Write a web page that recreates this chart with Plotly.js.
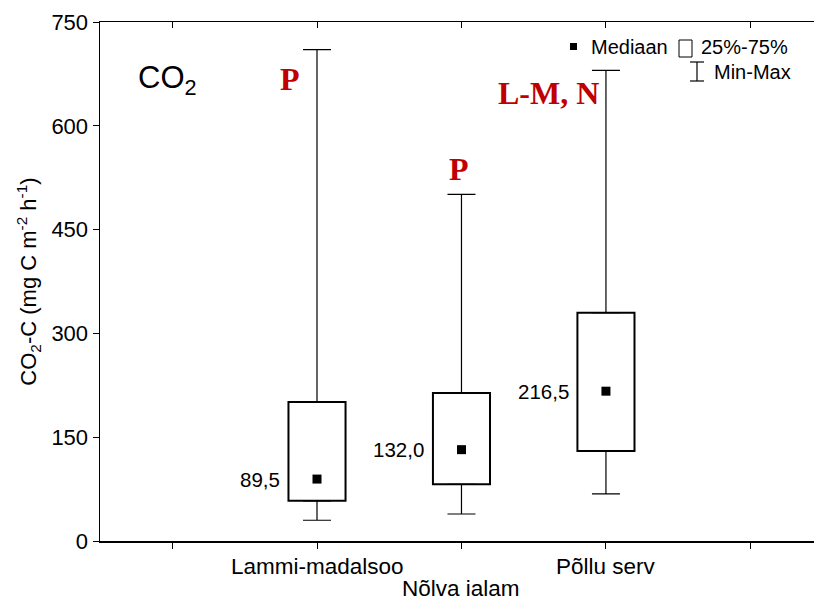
<!DOCTYPE html>
<html>
<head>
<meta charset="utf-8">
<script src="https://cdn.plot.ly/plotly-3.0.1.min.js"></script>
<style>
  html, body { margin: 0; padding: 0; background: #fff; }
  #chart { width: 814px; height: 596px; }
</style>
</head>
<body>
<div id="chart"></div>
<script>
// Site categories and their positions on the x axis
const categories = ['Lammi-madalsoo', 'Nõlva jalam', 'Põllu serv'];
const positions = [1, 2, 3];

// CO2-C flux summary statistics (mg C m-2 h-1)
const minVals    = [30, 39, 68];
const q1Vals     = [58, 82, 130];
const medianVals = [89.5, 132.0, 216.5];
const q3Vals     = [201, 214, 330];
const maxVals    = [710, 501, 680];

// Significance letters above each site
const sigLabels = ['P', 'P', 'L-M, N'];

const yTicks = [0, 150, 300, 450, 600, 750];

const FONT = 'Liberation Sans, Arial, sans-serif';
const SERIF = 'Liberation Serif, Times New Roman, serif';
const RED = '#c00000';

// Interquartile boxes: bars based at Q1 with height Q3-Q1
const boxTrace = {
  type: 'bar',
  x: positions,
  base: q1Vals,
  y: q3Vals.map((q3, i) => q3 - q1Vals[i]),
  width: 0.395,
  marker: { color: '#ffffff', line: { color: '#000000', width: 2 } },
  hoverinfo: 'skip',
  showlegend: false
};

// Upper whiskers: from Q3 up to the maximum
const upperWhisker = {
  type: 'scatter', mode: 'markers',
  x: positions, y: q3Vals,
  marker: { size: 1, color: 'rgba(0,0,0,0)' },
  error_y: {
    type: 'data', symmetric: false,
    array: maxVals.map((m, i) => m - q3Vals[i]),
    arrayminus: q3Vals.map(() => 0),
    color: '#000000', thickness: 1.2, width: 14
  },
  hoverinfo: 'skip', showlegend: false
};

// Lower whiskers: from Q1 down to the minimum
const lowerWhisker = {
  type: 'scatter', mode: 'markers',
  x: positions, y: q1Vals,
  marker: { size: 1, color: 'rgba(0,0,0,0)' },
  error_y: {
    type: 'data', symmetric: false,
    array: q1Vals.map(() => 0),
    arrayminus: q1Vals.map((q, i) => q - minVals[i]),
    color: '#000000', thickness: 1.2, width: 14
  },
  hoverinfo: 'skip', showlegend: false
};

// Median markers
const medianTrace = {
  type: 'scatter', mode: 'markers',
  x: positions, y: medianVals,
  marker: { symbol: 'square', size: 9, color: '#000000' },
  hoverinfo: 'skip', showlegend: false
};

// Dummy trace to carry the top x axis with inward ticks
const topAxisTrace = {
  type: 'scatter', mode: 'markers',
  x: positions, y: medianVals, xaxis: 'x2',
  marker: { size: 1, color: 'rgba(0,0,0,0)' },
  hoverinfo: 'skip', showlegend: false
};

const annotations = [];

// Median value labels left of each box
medianVals.forEach((m, i) => {
  annotations.push({
    x: positions[i], y: m, xref: 'x', yref: 'y',
    text: m.toFixed(1).replace('.', ','),
    showarrow: false, xanchor: 'right', yanchor: 'middle',
    xshift: -35,
    font: { family: FONT, size: 20.5, color: '#000' }
  });
});

// Significance letters
const sigX = [0.81, 1.98, 2.60];
const sigY = [668, 538, 648];
sigLabels.forEach((s, i) => {
  annotations.push({
    x: sigX[i], y: sigY[i], xref: 'x', yref: 'y',
    text: '<b>' + s + '</b>', showarrow: false,
    xanchor: 'center', yanchor: 'middle',
    font: { family: SERIF, size: 32, color: RED }
  });
});

// Category labels, the middle one staggered below
categories.forEach((c, i) => {
  annotations.push({
    x: positions[i], y: 0, xref: 'x', yref: 'paper',
    text: c, showarrow: false, xanchor: 'center', yanchor: 'middle',
    yshift: i === 1 ? -47 : -25,
    font: { family: FONT, size: 22.5, color: '#000' }
  });
});

// Panel label
annotations.push({
  x: (136 - 100) / 714, y: (541 - 80) / 519, xref: 'paper', yref: 'paper',
  text: 'CO<sub>2</sub>', showarrow: false, xanchor: 'left', yanchor: 'middle',
  font: { family: FONT, size: 31, color: '#000' }
});

// Legend texts
const px = v => (v - 100) / 714;
const py = v => (541 - v) / 519;
const legendFont = { family: FONT, size: 20, color: '#000' };
annotations.push({
  x: px(589), y: py(47), xref: 'paper', yref: 'paper', text: 'Mediaan',
  showarrow: false, xanchor: 'left', yanchor: 'middle', font: legendFont
});
annotations.push({
  x: px(699), y: py(47), xref: 'paper', yref: 'paper', text: '25%-75%',
  showarrow: false, xanchor: 'left', yanchor: 'middle', font: legendFont
});
annotations.push({
  x: px(712), y: py(72), xref: 'paper', yref: 'paper', text: 'Min-Max',
  showarrow: false, xanchor: 'left', yanchor: 'middle', font: legendFont
});

// Legend symbols
const shapes = [
  { type: 'rect', xref: 'paper', yref: 'paper',
    x0: px(570), x1: px(577), y0: py(43), y1: py(50),
    fillcolor: '#000', line: { width: 0 } },
  { type: 'rect', xref: 'paper', yref: 'paper',
    x0: px(679), x1: px(692), y0: py(40), y1: py(57),
    fillcolor: '#fff', line: { color: '#000', width: 1 } },
  { type: 'line', xref: 'paper', yref: 'paper',
    x0: px(697), x1: px(697), y0: py(62), y1: py(81),
    line: { color: '#000', width: 1.2 } },
  { type: 'line', xref: 'paper', yref: 'paper',
    x0: px(690), x1: px(704), y0: py(62), y1: py(62),
    line: { color: '#000', width: 1.2 } },
  { type: 'line', xref: 'paper', yref: 'paper',
    x0: px(690), x1: px(704), y0: py(81), y1: py(81),
    line: { color: '#000', width: 1.2 } }
];

const xRange = [-0.502, 4.44];

const layout = {
  width: 814, height: 596,
  margin: { l: 100, r: 0, t: 22, b: 55 },
  paper_bgcolor: '#fff', plot_bgcolor: '#fff',
  barmode: 'overlay',
  showlegend: false,
  xaxis: {
    range: xRange, tickvals: [0, 1, 2, 3, 4], ticktext: ['', '', '', '', ''],
    ticks: 'outside', ticklen: 6, tickcolor: '#000', tickwidth: 1,
    showgrid: false, zeroline: false,
    showline: true, linecolor: '#000', linewidth: 1.5, fixedrange: true
  },
  xaxis2: {
    overlaying: 'x', side: 'top', range: xRange,
    tickvals: [0, 1, 2, 3, 4], ticktext: ['', '', '', '', ''],
    ticks: 'inside', ticklen: 6, tickcolor: '#000', tickwidth: 1,
    showgrid: false, zeroline: false,
    showline: true, linecolor: '#000', linewidth: 1.5
  },
  yaxis: {
    range: [0, 750], tickvals: yTicks, ticktext: yTicks.map(String),
    ticks: 'outside', ticklen: 6, tickcolor: '#000', tickwidth: 1,
    showgrid: false, zeroline: false,
    showline: true, linecolor: '#000', linewidth: 1.5,
    tickfont: { family: FONT, size: 22, color: '#000' },
    title: {
      text: 'CO<sub>2</sub>-C (mg C m<sup>-2</sup> h<sup>-1</sup>)',
      font: { family: FONT, size: 22, color: '#000' },
      standoff: 8
    }
  },
  annotations: annotations,
  shapes: shapes
};

Plotly.newPlot('chart',
  [boxTrace, upperWhisker, lowerWhisker, medianTrace, topAxisTrace],
  layout, { displayModeBar: false, staticPlot: true });
</script>
</body>
</html>
